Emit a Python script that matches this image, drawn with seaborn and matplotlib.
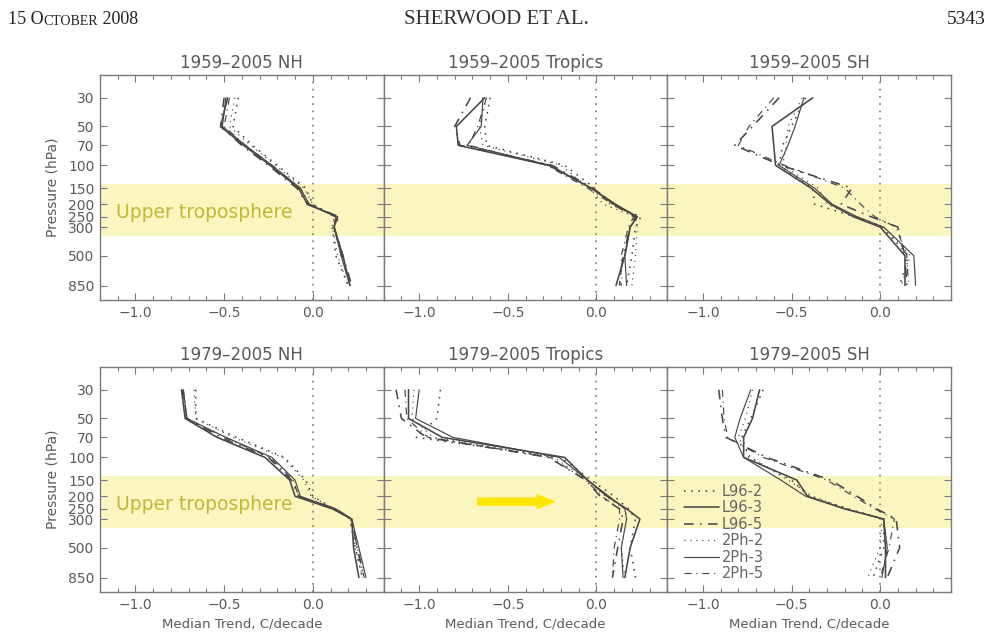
import numpy as np
import pandas as pd
import matplotlib
matplotlib.use("Agg")
import matplotlib.pyplot as plt
from matplotlib.ticker import MultipleLocator, NullLocator
import seaborn as sns

# pressure levels (hPa) and the six dataset variants
levels = [30, 50, 70, 100, 150, 200, 250, 300, 500, 850]
series = ["L96-2", "L96-3", "L96-5", "2Ph-2", "2Ph-3", "2Ph-5"]

# median trends (C/decade), one row per series, one value per level
nh_1959 = [
    [-0.42, -0.45, -0.34, -0.20, -0.04, 0.00, 0.13, 0.11, 0.13, 0.20],
    [-0.48, -0.52, -0.39, -0.24, -0.08, -0.03, 0.14, 0.12, 0.17, 0.21],
    [-0.50, -0.52, -0.40, -0.25, -0.09, -0.03, 0.15, 0.12, 0.17, 0.22],
    [-0.44, -0.47, -0.35, -0.21, -0.05, 0.00, 0.12, 0.11, 0.14, 0.20],
    [-0.49, -0.51, -0.38, -0.23, -0.07, -0.02, 0.13, 0.12, 0.16, 0.21],
    [-0.47, -0.50, -0.38, -0.23, -0.07, -0.02, 0.14, 0.12, 0.16, 0.21],
]
tr_1959 = [
    [-0.60, -0.63, -0.62, -0.18, -0.01, 0.08, 0.25, 0.22, 0.20, 0.17],
    [-0.63, -0.79, -0.78, -0.27, -0.03, 0.10, 0.23, 0.19, 0.16, 0.11],
    [-0.71, -0.80, -0.77, -0.25, -0.02, 0.10, 0.22, 0.19, 0.15, 0.13],
    [-0.62, -0.66, -0.64, -0.20, -0.04, 0.04, 0.22, 0.23, 0.22, 0.20],
    [-0.64, -0.65, -0.73, -0.26, -0.03, 0.11, 0.23, 0.19, 0.16, 0.17],
    [-0.62, -0.67, -0.72, -0.28, -0.05, 0.09, 0.21, 0.18, 0.14, 0.14],
]
sh_1959 = [
    [-0.42, -0.50, -0.55, -0.57, -0.38, -0.37, -0.14, 0.01, 0.16, 0.11],
    [-0.38, -0.61, -0.60, -0.59, -0.39, -0.28, -0.15, 0.00, 0.14, 0.14],
    [-0.57, -0.72, -0.82, -0.56, -0.16, -0.22, -0.05, 0.10, 0.14, 0.15],
    [-0.44, -0.52, -0.53, -0.55, -0.35, -0.30, -0.13, 0.02, 0.17, 0.12],
    [-0.43, -0.48, -0.52, -0.57, -0.37, -0.27, -0.13, 0.02, 0.19, 0.20],
    [-0.60, -0.74, -0.80, -0.54, -0.20, -0.11, -0.03, 0.09, 0.15, 0.16],
]
nh_1979 = [
    [-0.66, -0.66, -0.43, -0.16, -0.04, 0.00, 0.12, 0.21, 0.24, 0.28],
    [-0.74, -0.72, -0.54, -0.27, -0.13, -0.10, 0.11, 0.22, 0.23, 0.26],
    [-0.74, -0.71, -0.52, -0.25, -0.12, -0.08, 0.12, 0.22, 0.25, 0.29],
    [-0.67, -0.66, -0.45, -0.17, -0.05, -0.01, 0.12, 0.21, 0.24, 0.28],
    [-0.73, -0.71, -0.49, -0.23, -0.10, -0.07, 0.13, 0.22, 0.26, 0.30],
    [-0.73, -0.71, -0.50, -0.24, -0.11, -0.08, 0.13, 0.22, 0.25, 0.29],
]
tr_1979 = [
    [-0.88, -0.90, -1.02, -0.20, -0.03, 0.10, 0.18, 0.22, 0.19, 0.22],
    [-1.06, -1.06, -0.87, -0.18, -0.05, 0.06, 0.17, 0.245, 0.19, 0.16],
    [-1.13, -1.10, -0.96, -0.27, -0.06, 0.02, 0.13, 0.15, 0.12, 0.09],
    [-1.03, -1.04, -0.92, -0.24, -0.05, 0.05, 0.16, 0.17, 0.14, 0.16],
    [-1.00, -1.02, -0.81, -0.21, -0.05, 0.07, 0.16, 0.17, 0.14, 0.15],
    [-1.08, -1.07, -0.95, -0.26, -0.06, 0.03, 0.13, 0.13, 0.10, 0.09],
]
sh_1979 = [
    [-0.66, -0.73, -0.78, -0.74, -0.50, -0.40, -0.18, 0.02, 0.02, -0.04],
    [-0.68, -0.72, -0.77, -0.77, -0.47, -0.41, -0.20, 0.02, 0.03, 0.03],
    [-0.91, -0.89, -0.87, -0.64, -0.28, -0.13, -0.02, 0.09, 0.11, 0.04],
    [-0.72, -0.76, -0.80, -0.73, -0.52, -0.38, -0.19, 0.01, 0.00, -0.07],
    [-0.73, -0.79, -0.82, -0.77, -0.56, -0.42, -0.20, 0.02, 0.04, 0.01],
    [-0.89, -0.88, -0.86, -0.66, -0.30, -0.15, -0.03, 0.08, 0.05, 0.00],
]

titles = ["1959–2005 NH", "1959–2005 Tropics", "1959–2005 SH",
          "1979–2005 NH", "1979–2005 Tropics", "1979–2005 SH"]
panels = [nh_1959, tr_1959, sh_1959, nh_1979, tr_1979, sh_1979]

sns.set_theme(style="ticks")
plt.rcParams["font.family"] = ["DejaVu Sans"]

line_col = "#474747"
txt_col = "#5a5a5a"
frame_col = "#7a7a7a"
band_col = "#FBF5C0"

palette = {s: line_col for s in series}
dashes = {"L96-2": (1, 3.5), "L96-3": "", "L96-5": (6, 4, 1, 4),
          "2Ph-2": (1, 4), "2Ph-3": "", "2Ph-5": (6, 4, 1, 4)}
sizes = {"L96-2": 1.15, "L96-3": 1.15, "L96-5": 1.15,
         "2Ph-2": 0.85, "2Ph-3": 0.85, "2Ph-5": 0.85}

fig = plt.figure(figsize=(9.89, 6.35), dpi=100)
fig.patch.set_facecolor("white")

x0, w, h = 100 / 989, 283.7 / 989, 225 / 635
bottoms = [1 - 300 / 635, 1 - 592 / 635]

for i, (title, values) in enumerate(zip(titles, panels)):
    r, c = divmod(i, 3)
    ax = fig.add_axes([x0 + c * w, bottoms[r], w, h])
    df = pd.DataFrame({
        "trend": np.ravel(values),
        "pressure": levels * len(series),
        "series": np.repeat(series, len(levels)),
    })
    sns.lineplot(data=df, x="trend", y="pressure", hue="series", style="series",
                 size="series", hue_order=series, style_order=series,
                 size_order=series, palette=palette, dashes=dashes, sizes=sizes,
                 sort=False, estimator=None, legend=False, ax=ax)
    handles = list(ax.lines[:len(series)])

    ax.set_yscale("log")
    ax.set_ylim(1100, 20)
    ax.set_xlim(-1.2, 0.4)
    ax.axhspan(140, 350, color=band_col, lw=0, zorder=0)
    ax.axvline(0, color="#8a8a8a", ls=(0, (1, 3)), lw=1.3, zorder=1)

    ax.set_yticks(levels)
    ax.yaxis.set_minor_locator(NullLocator())
    ax.set_yticklabels([str(p) for p in levels] if c == 0 else [])
    ax.set_xticks([-1.0, -0.5, 0.0])
    ax.set_xticklabels(["\u22121.0", "\u22120.5", "0.0"])
    ax.xaxis.set_minor_locator(MultipleLocator(0.1))
    ax.tick_params(which="both", direction="in", top=True, right=True,
                   color=frame_col, labelcolor=txt_col, labelsize=10, width=0.8)
    ax.tick_params(which="major", length=5, pad=4)
    ax.tick_params(which="minor", length=3)
    for sp in ax.spines.values():
        sp.set_color(frame_col)
        sp.set_linewidth(1.0)

    ax.set_title(title, fontsize=12, color=txt_col, pad=5)
    ax.set_xlabel("Median Trend, C/decade" if r == 1 else "",
                  fontsize=9.5, color=txt_col, labelpad=4)
    ax.set_ylabel("Pressure (hPa)" if c == 0 else "",
                  fontsize=10, color=txt_col, labelpad=6)

    if c == 0:
        ax.text(0.055, 230, "Upper troposphere", transform=ax.get_yaxis_transform(),
                fontsize=13.5, color="#C2B838", va="center", ha="left")
    if r == 1 and c == 1:
        ax.annotate("", xy=(-0.24, 220), xytext=(-0.67, 220),
                    arrowprops=dict(arrowstyle="simple,head_width=1.0,head_length=1.2,tail_width=0.5",
                                    color="#FFE600", mutation_scale=10,
                                    shrinkA=0, shrinkB=0))
    if r == 1 and c == 2:
        leg = ax.legend(handles=handles, labels=series, loc="upper left",
                        bbox_to_anchor=(0.06, 0.48), frameon=False,
                        fontsize=10.5, handlelength=2.4, handletextpad=0.15,
                        labelspacing=0.1, borderpad=0, borderaxespad=0)
        for t in leg.get_texts():
            t.set_color("#666666")
    if r == 0 and c == 0:
        ax0 = ax

# page header
serif = ["Liberation Serif", "DejaVu Serif"]
t1 = fig.text(8 / 989, 1 - 24 / 635, "15 O", fontsize=13, family=serif,
              color="#222222", va="baseline")
t2 = ax0.annotate("CTOBER", xy=(1, 0), xycoords=t1, fontsize=10, family=serif,
                  color="#222222", va="bottom", annotation_clip=False)
ax0.annotate(" 2008", xy=(1, 0), xycoords=t2, fontsize=13, family=serif,
             color="#222222", va="bottom", annotation_clip=False)
fig.text(496 / 989, 1 - 24 / 635, "SHERWOOD ET AL.", fontsize=15, family=serif,
         color="#333333", ha="center", va="baseline")
fig.text(986 / 989, 1 - 24 / 635, "5343", fontsize=14, family=serif,
         color="#222222", ha="right", va="baseline")

fig.savefig("out.png", dpi=100, facecolor="white")
